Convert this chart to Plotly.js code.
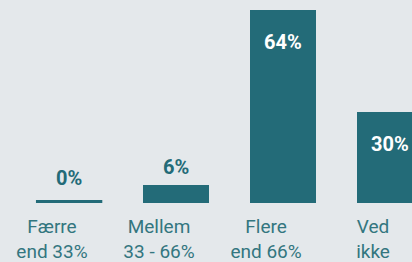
<!DOCTYPE html>
<html><head><meta charset="utf-8">
<script src="https://cdn.plot.ly/plotly-3.0.1.min.js"></script>
<style>html,body{margin:0;padding:0;background:#e4e8eb;overflow:hidden}</style>
</head><body><div id="chart" style="width:412px;height:262px"></div>
<script>
const categories = ["Færre<br>end 33%", "Mellem<br>33 - 66%", "Flere<br>end 66%", "Ved<br>ikke"];
const values = [0, 6, 64, 30];
const valueLabels = ["0%", "6%", "64%", "30%"];
const labelInside = [false, false, true, true];

const TEAL = '#236b78';
const TEXT_TEAL = '#33767f';
const BG = '#e4e8eb';
const BAR_W = 0.62;
const BAR_SHIFT = 0.16;
const pos = categories.map((_, i) => i);

const trace = {
  type: 'bar', x: pos, y: values, width: BAR_W, offset: BAR_SHIFT - BAR_W / 2,
  marker: {color: TEAL, line: {width: 0}}, hoverinfo: 'none', showlegend: false
};

const annotations = values.map((v, i) => ({
  x: i + BAR_SHIFT, y: v, xref: 'x', yref: 'y', text: valueLabels[i], showarrow: false,
  yanchor: labelInside[i] ? 'top' : 'bottom',
  yshift: labelInside[i] ? -18 : (v === 0 ? 11 : 4),
  font: {family: 'Roboto', size: 20, weight: 'bold', color: labelInside[i] ? '#ffffff' : TEAL}
}));

const shapes = values.map((v, i) => v === 0 ? {
  type: 'rect', xref: 'x', yref: 'y', ysizemode: 'pixel', yanchor: 0,
  x0: i + BAR_SHIFT - BAR_W / 2, x1: i + BAR_SHIFT + BAR_W / 2, y0: 0, y1: 3,
  fillcolor: TEAL, line: {width: 0}
} : null).filter(Boolean);

const layout = {
  width: 412, height: 262,
  margin: {l: 0, r: 0, t: 0, b: 59, pad: 0},
  paper_bgcolor: BG, plot_bgcolor: BG,
  xaxis: {
    range: [-0.486, 3.364], tickvals: pos, ticktext: categories,
    showgrid: false, zeroline: false, showline: false, ticks: '',
    ticklabelstandoff: 10,
    tickfont: {family: 'Roboto', size: 19, color: TEXT_TEAL}, fixedrange: true
  },
  yaxis: {range: [0, 67.2], visible: false, fixedrange: true},
  annotations: annotations, shapes: shapes, bargap: 0
};

Plotly.newPlot('chart', [trace], layout, {displayModeBar: false, staticPlot: true});
</script></body></html>
